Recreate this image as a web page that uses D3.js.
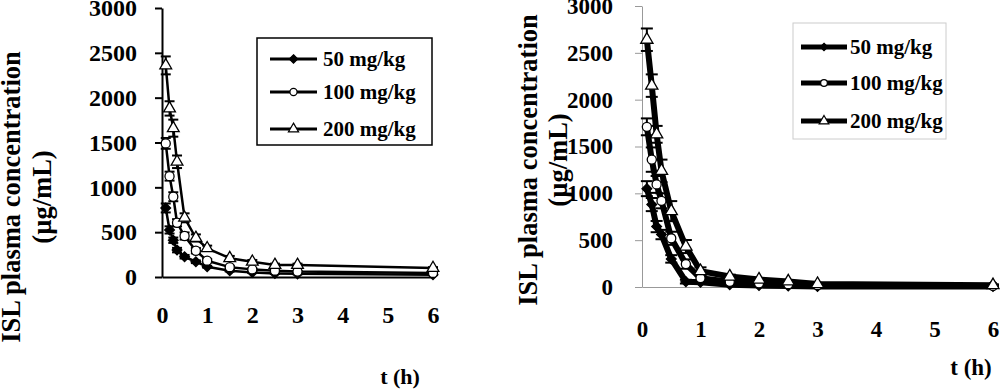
<!DOCTYPE html>
<html>
<head>
<meta charset="utf-8">
<script src="https://cdn.jsdelivr.net/npm/d3@7"></script>
<style>
  body { margin: 0; background: #fff; }
  text { font-family: "Liberation Serif", "Times New Roman", serif; font-weight: bold; fill: #000; }
</style>
</head>
<body>
<div id="chart-area"></div>
<script>
// sampling times (h)
const times = [0.083, 0.167, 0.25, 0.333, 0.5, 0.75, 1, 1.5, 2, 2.5, 3, 6];
const doses = ["50 mg/kg", "100 mg/kg", "200 mg/kg"];
const xTicks = [0, 1, 2, 3, 4, 5, 6];
const yTicks = [0, 500, 1000, 1500, 2000, 2500, 3000];

// left panel: mean and SD
const leftMean50  = [770, 525, 410, 300, 226, 170, 115, 70, 50, 40, 35, 25];
const leftSd50    = [50, 40, 30, 25, 20, 15, 10, 8, 6, 5, 5, 4];
const leftMean100 = [1490, 1125, 895, 605, 457, 293, 182, 110, 85, 70, 60, 45];
const leftSd100   = [60, 50, 50, 40, 40, 30, 20, 15, 10, 10, 8, 6];
const leftMean200 = [2360, 1880, 1660, 1285, 660, 435, 320, 210, 170, 134, 134, 100];
const leftSd200   = [100, 80, 95, 70, 50, 40, 30, 25, 20, 15, 15, 10];

// right panel: mean and SD
const rightMean50  = [1050, 880, 645, 560, 300, 57, 50, 25, 15, 10, 5, 5];
const rightSd50    = [80, 70, 60, 50, 40, 20, 15, 8, 6, 5, 4, 4];
const rightMean100 = [1710, 1360, 1095, 920, 520, 245, 95, 55, 40, 30, 20, 12];
const rightSd100   = [90, 130, 90, 80, 70, 50, 25, 10, 8, 6, 5, 5];
const rightMean200 = [2640, 2150, 1630, 1240, 810, 432, 170, 112, 80, 60, 32, 20];
const rightSd200   = [120, 120, 90, 120, 107, 70, 40, 20, 15, 12, 10, 8];

const yTitle1 = "ISL plasma concentration";
const yTitle2 = "(\u00b5g/mL)";
const xTitle = "t (h)";

const svg = d3.select("#chart-area").append("svg").attr("width", 1000).attr("height", 390);

const symbols = [d3.symbolDiamond2, d3.symbolCircle, d3.symbolTriangle];
const fills = ["#000", "#fff", "#fff"];

function drawPanel(p) {
    const x = d3.scaleLinear().domain([0, 6]).range([p.x0, p.x1]);
    const y = d3.scaleLinear().domain([0, 3000]).range([p.y0, p.y1]);
    const g = svg.append("g");

    // y axis
    const yAxis = g.append("g")
        .attr("transform", "translate(" + p.x0 + ",0)")
        .call(d3.axisLeft(y).tickValues(yTicks).tickFormat(d => d)
            .tickSizeInner(7).tickSizeOuter(0).tickPadding(p.yPad));
    // x axis
    const xAxis = g.append("g")
        .attr("transform", "translate(0," + p.y0 + ")")
        .call(d3.axisBottom(x).tickValues(xTicks).tickFormat(d => d)
            .tickSize(0).tickPadding(p.xPad));

    [yAxis, xAxis].forEach(a => {
        a.selectAll("path, line").attr("stroke", p.axisColor).attr("stroke-width", p.axisWidth);
        a.selectAll("text").attr("font-size", p.tickFont + "px")
            .style("font-family", "'Liberation Serif', serif").style("font-weight", "bold");
    });

    const series = p.means.map((m, i) => times.map((t, j) => ({ t: t, v: m[j], sd: p.sds[i][j] })));

    // error bars
    series.forEach(s => {
        const eb = g.append("g");
        eb.selectAll("line.v").data(s).enter().append("line")
            .attr("x1", d => x(d.t)).attr("x2", d => x(d.t))
            .attr("y1", d => y(d.v - d.sd)).attr("y2", d => y(d.v + d.sd))
            .attr("stroke", "#000").attr("stroke-width", 2);
        eb.selectAll("line.top").data(s).enter().append("line")
            .attr("x1", d => x(d.t) - p.cap).attr("x2", d => x(d.t) + p.cap)
            .attr("y1", d => y(d.v + d.sd)).attr("y2", d => y(d.v + d.sd))
            .attr("stroke", "#000").attr("stroke-width", 2);
        eb.selectAll("line.bot").data(s).enter().append("line")
            .attr("x1", d => x(d.t) - p.cap).attr("x2", d => x(d.t) + p.cap)
            .attr("y1", d => y(d.v - d.sd)).attr("y2", d => y(d.v - d.sd))
            .attr("stroke", "#000").attr("stroke-width", 2);
    });

    const line = d3.line().x(d => x(d.t)).y(d => y(d.v));

    series.forEach((s, i) => {
        g.append("path").datum(s)
            .attr("d", line)
            .attr("fill", "none")
            .attr("stroke", "#000")
            .attr("stroke-width", p.lineWidth)
            .attr("stroke-linejoin", "round");
        g.selectAll(null).data(s).enter().append("path")
            .attr("transform", d => "translate(" + x(d.t) + "," + y(d.v) + ")")
            .attr("d", d3.symbol().type(symbols[i]).size(p.symSize[i]))
            .attr("fill", fills[i])
            .attr("stroke", "#000")
            .attr("stroke-width", 1.3);
    });

    // legend
    const lg = g.append("g");
    lg.append("rect")
        .attr("x", p.legend.x).attr("y", p.legend.y)
        .attr("width", p.legend.w).attr("height", p.legend.h)
        .attr("fill", "#fff")
        .attr("stroke", p.legend.border).attr("stroke-width", p.legend.borderWidth);
    doses.forEach((d, i) => {
        const ly = p.legend.rows[i];
        lg.append("line")
            .attr("x1", p.legend.lx0).attr("x2", p.legend.lx1)
            .attr("y1", ly).attr("y2", ly)
            .attr("stroke", "#000").attr("stroke-width", p.legend.lineWidth);
        lg.append("path")
            .attr("transform", "translate(" + (p.legend.lx0 + p.legend.lx1) / 2 + "," + ly + ")")
            .attr("d", d3.symbol().type(symbols[i]).size(p.legend.symSize[i]))
            .attr("fill", fills[i]).attr("stroke", "#000").attr("stroke-width", 1.2);
        lg.append("text")
            .attr("x", p.legend.tx).attr("y", ly + 7)
            .attr("font-size", p.legend.font + "px")
            .text(d);
    });

    // axis titles
    g.append("text")
        .attr("transform", "translate(" + p.t1x + "," + p.tcy + ") rotate(-90)")
        .attr("text-anchor", "middle")
        .attr("font-size", p.titleFont + "px")
        .text(yTitle1);
    g.append("text")
        .attr("transform", "translate(" + p.t2x + "," + p.tcy + ") rotate(-90)")
        .attr("text-anchor", "middle")
        .attr("font-size", p.titleFont + "px")
        .text(yTitle2);
    g.append("text")
        .attr("x", p.xtx).attr("y", p.xty)
        .attr("text-anchor", "middle")
        .attr("font-size", p.xTitleFont + "px")
        .text(xTitle);
}

drawPanel({
    x0: 162, x1: 433, y0: 277, y1: 8,
    yPad: 18, xPad: 29, tickFont: 24,
    axisColor: "#000", axisWidth: 2,
    means: [leftMean50, leftMean100, leftMean200],
    sds: [leftSd50, leftSd100, leftSd200],
    cap: 5, lineWidth: 2.5, symSize: [60, 65, 60],
    legend: {
        x: 257, y: 38, w: 175, h: 107, border: "#000", borderWidth: 1.5,
        rows: [59, 92, 129], lx0: 270, lx1: 317, tx: 323, lineWidth: 3,
        font: 21, symSize: [45, 40, 45]
    },
    t1x: 20, t2x: 51, tcy: 197, titleFont: 26.5,
    xtx: 400, xty: 384, xTitleFont: 22
});

drawPanel({
    x0: 642, x1: 993, y0: 287, y1: 6,
    yPad: 22, xPad: 34, tickFont: 23,
    axisColor: "#999", axisWidth: 1,
    means: [rightMean50, rightMean100, rightMean200],
    sds: [rightSd50, rightSd100, rightSd200],
    cap: 6, lineWidth: 6, symSize: [60, 65, 65],
    legend: {
        x: 793, y: 23, w: 153, h: 116, border: "#ccc", borderWidth: 1,
        rows: [47, 83, 121], lx0: 801, lx1: 847, tx: 850, lineWidth: 5,
        font: 21, symSize: [35, 35, 40]
    },
    t1x: 537, t2x: 567, tcy: 160, titleFont: 26.5,
    xtx: 971, xty: 375, xTitleFont: 23
});
</script>
</body>
</html>
